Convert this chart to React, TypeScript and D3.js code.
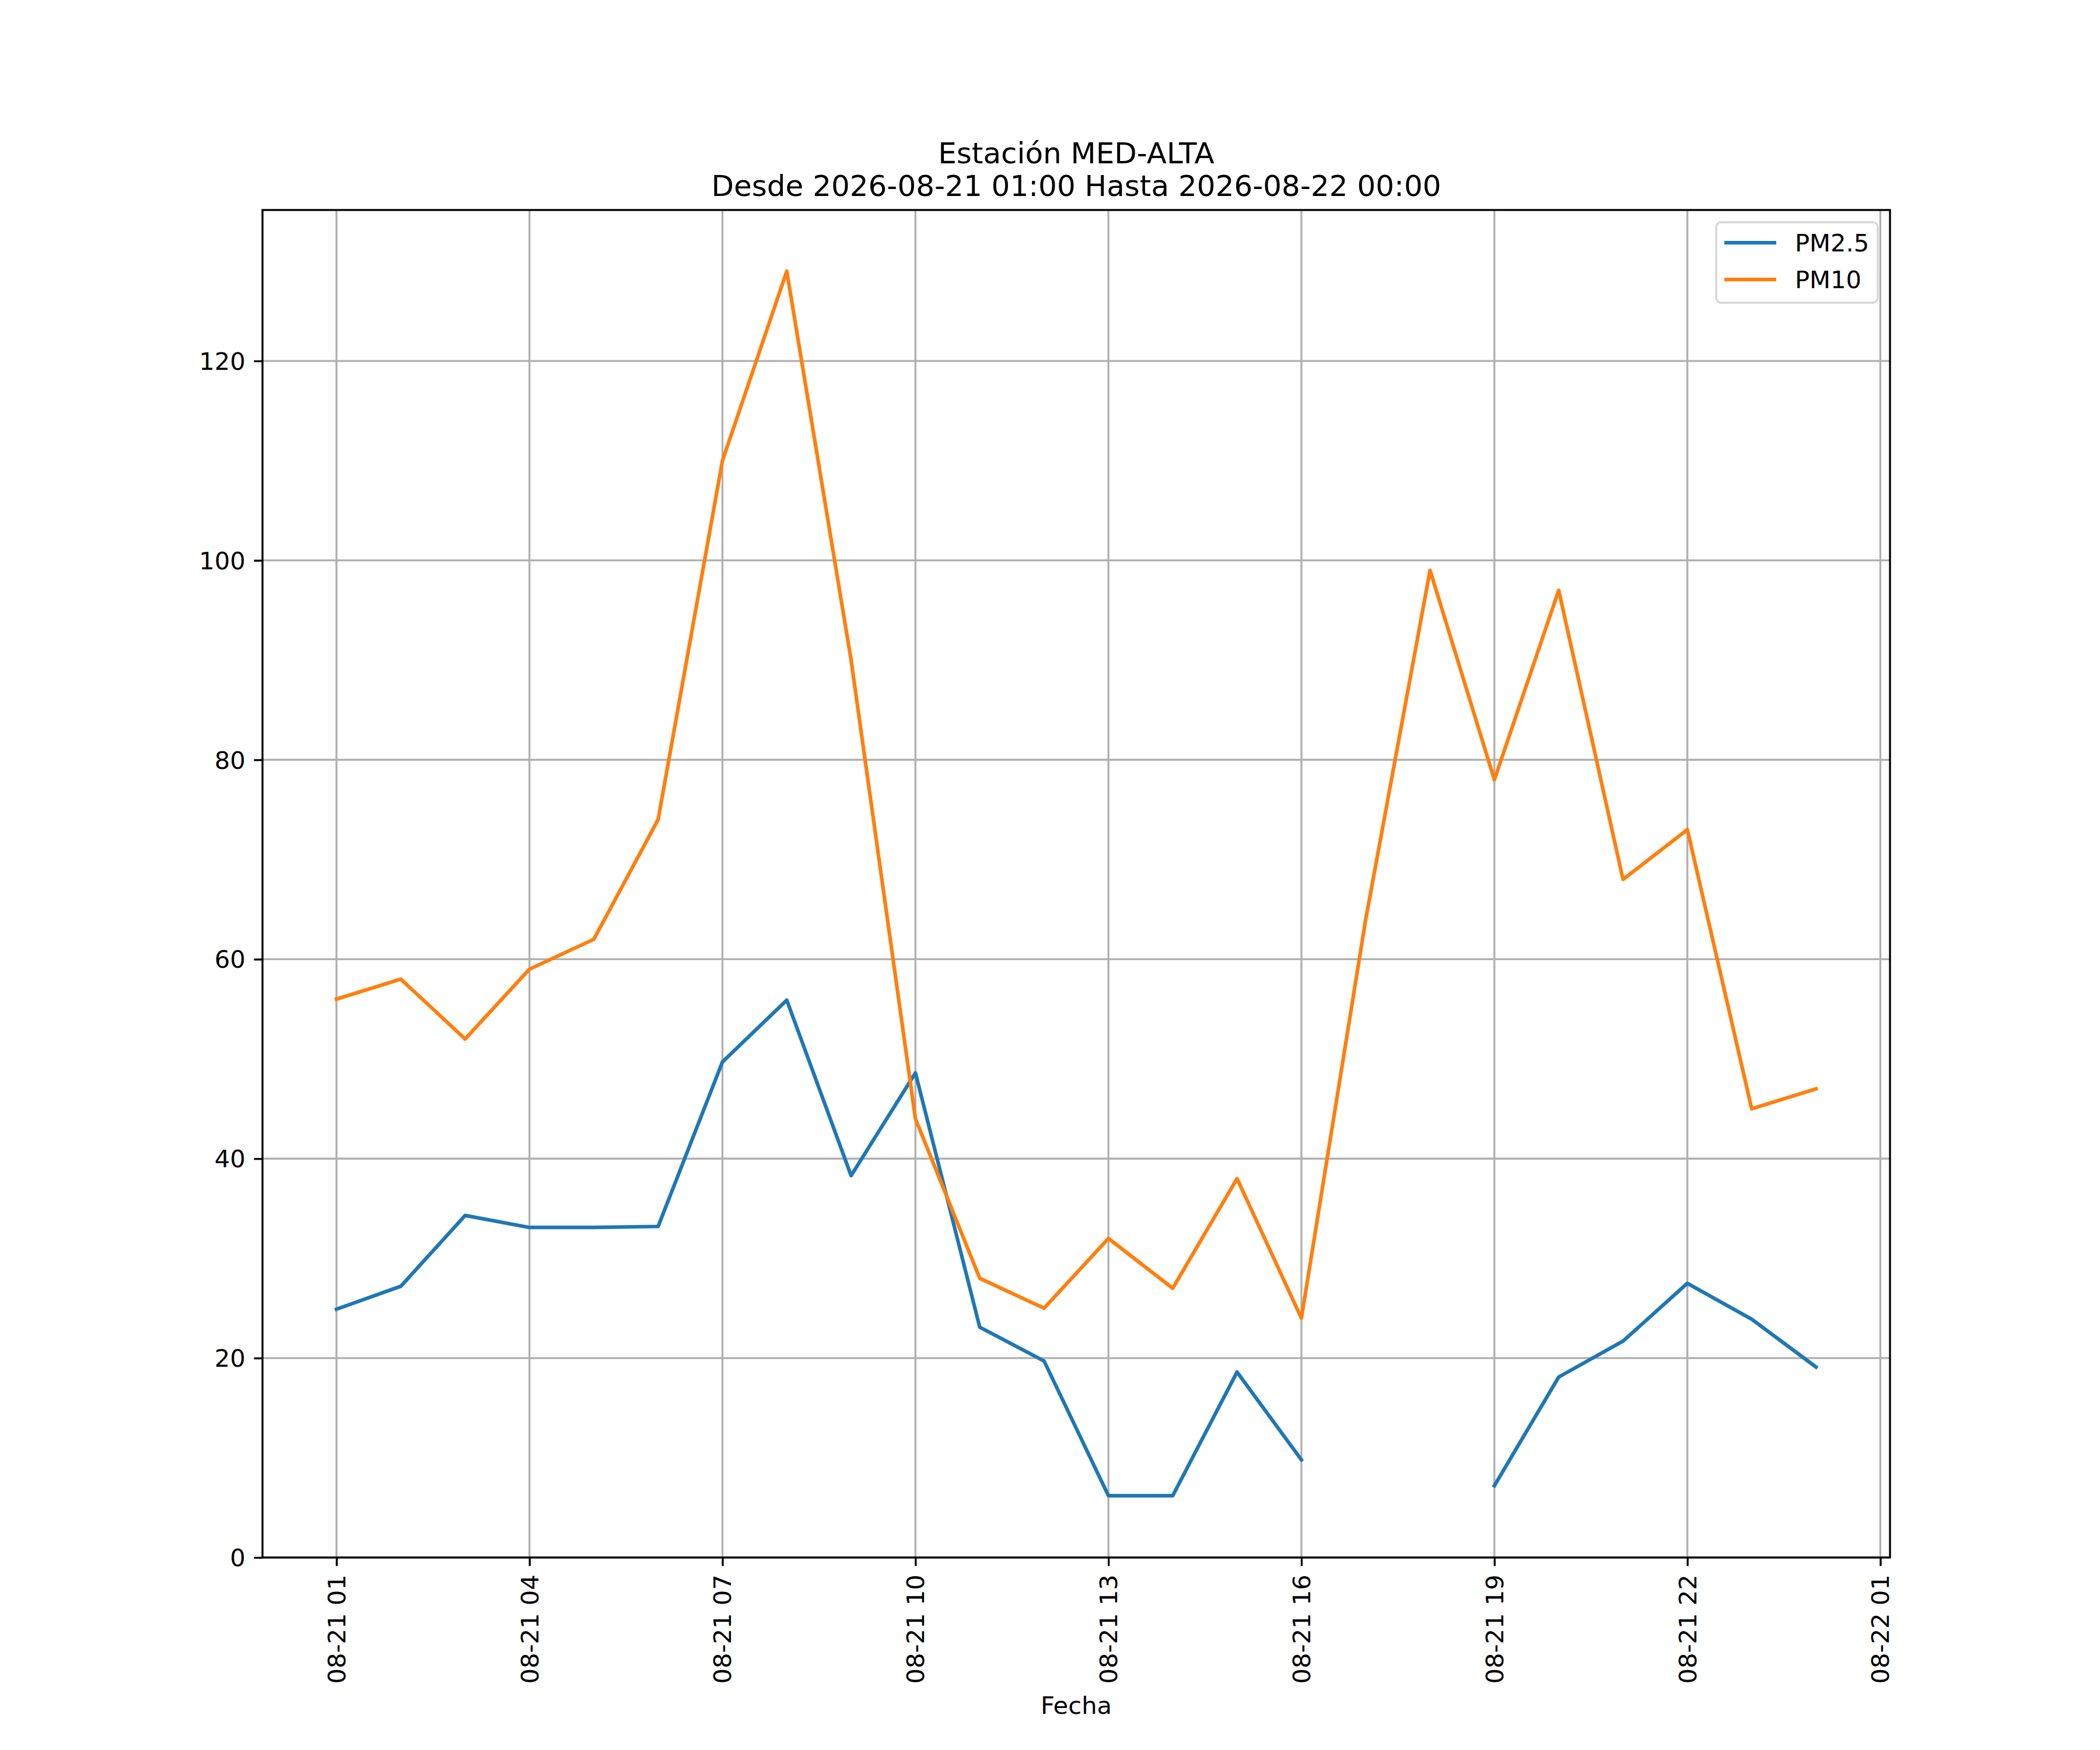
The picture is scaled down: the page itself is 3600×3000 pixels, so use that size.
import { useEffect, useRef } from 'react';
import * as d3 from 'd3';

const times = [
  '2026-08-21T01:00', '2026-08-21T02:00', '2026-08-21T03:00', '2026-08-21T04:00',
  '2026-08-21T05:00', '2026-08-21T06:00', '2026-08-21T07:00', '2026-08-21T08:00',
  '2026-08-21T09:00', '2026-08-21T10:00', '2026-08-21T11:00', '2026-08-21T12:00',
  '2026-08-21T13:00', '2026-08-21T14:00', '2026-08-21T15:00', '2026-08-21T16:00',
  '2026-08-21T17:00', '2026-08-21T18:00', '2026-08-21T19:00', '2026-08-21T20:00',
  '2026-08-21T21:00', '2026-08-21T22:00', '2026-08-21T23:00', '2026-08-22T00:00',
];

const pm25 = [
  24.9, 27.2, 34.3, 33.1, 33.1, 33.2, 49.7, 55.9, 38.3, 48.6, 23.1, 19.7,
  6.2, 6.2, 18.6, 9.8, null, null, 7.2, 18.1, 21.7, 27.5, 23.9, 19.1,
];

const pm10 = [
  56, 58, 52, 59, 62, 74, 110, 129, 90, 44, 28, 25,
  32, 27, 38, 24, 64, 99, 78, 97, 68, 73, 45, 47,
];

const seriesNames = ['PM2.5', 'PM10'];
const seriesColors = ['#1f77b4', '#ff7f0e'];
const yTicks = [0, 20, 40, 60, 80, 100, 120];
const titleLines = ['Estación MED-ALTA', 'Desde 2026-08-21 01:00 Hasta 2026-08-22 00:00'];
const xLabel = 'Fecha';

function App() {
  const svgRef = useRef(null);

  useEffect(() => {
    const svg = d3.select(svgRef.current);
    svg.selectAll('*').remove();

    const pt = 300 / 72;
    const font = '"DejaVu Sans", sans-serif';
    const left = 450, right = 3240, top = 360, bottom = 2670;
    const tickLen = 3.5 * pt;
    const tickPad = 3.5 * pt;
    const lw = 0.8 * pt;

    const parse = d3.utcParse('%Y-%m-%dT%H:%M');
    const dates = times.map(t => parse(t));
    const t0 = +dates[0];
    const t1 = +dates[dates.length - 1];
    const xPad = (t1 - t0) * 0.05;

    const x = d3
      .scaleUtc()
      .domain([new Date(t0 - xPad), new Date(t1 + xPad)])
      .range([left, right]);

    const all = [...pm25, ...pm10].filter(v => v != null);
    const yMin = d3.min(all);
    const yMax = d3.max(all);
    const y = d3
      .scaleLinear()
      .domain([0, yMax + 0.05 * (yMax - yMin)])
      .range([bottom, top]);

    const xTicks = d3.utcHour.range(dates[0], x.domain()[1], 3);

    // grid
    const grid = svg.append('g');
    grid
      .selectAll('line.gx')
      .data(xTicks)
      .join('line')
      .attr('x1', d => x(d))
      .attr('x2', d => x(d))
      .attr('y1', top)
      .attr('y2', bottom)
      .attr('stroke', '#b0b0b0')
      .attr('stroke-width', lw);
    grid
      .selectAll('line.gy')
      .data(yTicks)
      .join('line')
      .attr('x1', left)
      .attr('x2', right)
      .attr('y1', d => y(d))
      .attr('y2', d => y(d))
      .attr('stroke', '#b0b0b0')
      .attr('stroke-width', lw);

    // lines
    const series = [pm25, pm10];
    const line = d3
      .line()
      .defined(d => d[1] != null)
      .x(d => x(d[0]))
      .y(d => y(d[1]));

    series.forEach((vals, i) => {
      svg
        .append('path')
        .datum(vals.map((v, j) => [dates[j], v]))
        .attr('d', line)
        .attr('fill', 'none')
        .attr('stroke', seriesColors[i])
        .attr('stroke-width', 1.5 * pt)
        .attr('stroke-linejoin', 'round')
        .attr('stroke-linecap', 'square');
    });

    // x axis
    const xAxis = svg
      .append('g')
      .attr('transform', `translate(0,${bottom})`)
      .call(
        d3
          .axisBottom(x)
          .tickValues(xTicks)
          .tickFormat(d3.utcFormat('%m-%d %H'))
          .tickSize(tickLen)
          .tickPadding(tickPad)
      );
    xAxis.select('.domain').remove();
    xAxis.selectAll('.tick line').attr('stroke', '#000').attr('stroke-width', lw);
    xAxis
      .selectAll('.tick text')
      .attr('y', null)
      .attr('dy', null)
      .attr('x', null)
      .attr('transform', `translate(0,${tickLen + tickPad}) rotate(-90)`)
      .attr('text-anchor', 'end')
      .attr('dominant-baseline', 'central')
      .attr('fill', '#000')
      .style('font-family', font)
      .style('font-size', `${10 * pt}px`);

    // y axis
    const yAxis = svg
      .append('g')
      .attr('transform', `translate(${left},0)`)
      .call(
        d3
          .axisLeft(y)
          .tickValues(yTicks)
          .tickFormat(d3.format('d'))
          .tickSize(tickLen)
          .tickPadding(tickPad)
      );
    yAxis.select('.domain').remove();
    yAxis.selectAll('.tick line').attr('stroke', '#000').attr('stroke-width', lw);
    yAxis
      .selectAll('.tick text')
      .attr('dy', null)
      .attr('dominant-baseline', 'central')
      .attr('fill', '#000')
      .style('font-family', font)
      .style('font-size', `${10 * pt}px`);

    // spines
    svg
      .append('rect')
      .attr('x', left)
      .attr('y', top)
      .attr('width', right - left)
      .attr('height', bottom - top)
      .attr('fill', 'none')
      .attr('stroke', '#000')
      .attr('stroke-width', lw);

    // title
    svg
      .append('text')
      .attr('x', (left + right) / 2)
      .attr('y', 336)
      .attr('text-anchor', 'middle')
      .style('font-family', font)
      .style('font-size', `${12 * pt}px`)
      .selectAll('tspan')
      .data(titleLines)
      .join('tspan')
      .attr('x', (left + right) / 2)
      .attr('y', (d, i) => 336 - (titleLines.length - 1 - i) * 56)
      .text(d => d);

    // x label
    svg
      .append('text')
      .attr('x', (left + right) / 2)
      .attr('y', 2938)
      .attr('text-anchor', 'middle')
      .style('font-family', font)
      .style('font-size', `${10 * pt}px`)
      .text(xLabel);

    // legend
    const lg = svg.append('g');
    lg.append('rect')
      .attr('x', 2942)
      .attr('y', 381)
      .attr('width', 3219 - 2942)
      .attr('height', 519 - 381)
      .attr('rx', 0.2 * 10 * pt)
      .attr('fill', 'rgba(255,255,255,0.8)')
      .attr('stroke', '#d6d6d6')
      .attr('stroke-width', lw);
    seriesNames.forEach((name, i) => {
      const ly = 416 + i * 63;
      lg.append('line')
        .attr('x1', 2956)
        .attr('x2', 3045)
        .attr('y1', ly)
        .attr('y2', ly)
        .attr('stroke', seriesColors[i])
        .attr('stroke-width', 1.5 * pt);
      lg.append('text')
        .attr('x', 3077)
        .attr('y', ly)
        .attr('dominant-baseline', 'central')
        .style('font-family', font)
        .style('font-size', `${10 * pt}px`)
        .text(name);
    });
  }, []);

  return (
    <div style={{ position: 'absolute', left: 0, top: 0, background: '#fff' }}>
      <svg ref={svgRef} width={3600} height={3000} style={{ display: 'block', background: '#fff' }} />
    </div>
  );
}

export default App;
